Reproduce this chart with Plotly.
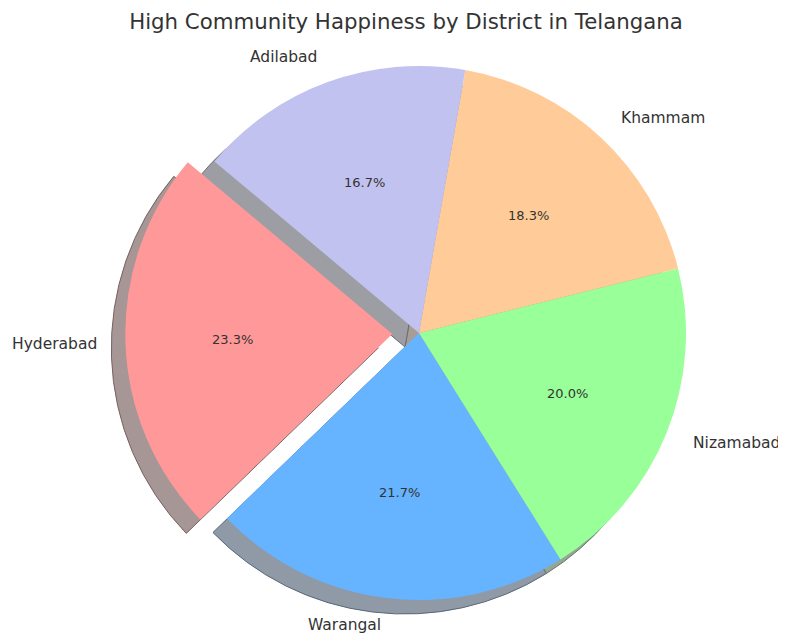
import math
import plotly.graph_objects as go

# ---- data ----
districts = ["Hyderabad", "Warangal", "Nizamabad", "Khammam", "Adilabad"]
counts = [14, 13, 12, 11, 10]
colors = ["#ff9999", "#66b3ff", "#99ff99", "#ffcc99", "#c2c2f0"]
explode = [0.1, 0, 0, 0, 0]
start_angle = 140  # degrees, counter-clockwise from 3 o'clock
title_text = "High Community Happiness by District in Telangana"

# ---- layout geometry (page pixels) ----
W, H = 778, 637
PAGE_OFF = 8               # browser body margin
cx, cy = 419, 333          # pie centre on the page
R = 267                    # pie radius
shadow_off = 14            # shadow offset (left / down)
FONT = "DejaVu Sans"
TXT = "#333333"

total = sum(counts)
half = R * (1 + max(explode))


def fx(px):
    return (px - PAGE_OFF) / W


def fy(py):
    return 1 - (py - PAGE_OFF) / H


def domain(cxp, cyp):
    return dict(x=[max(0.0, fx(cxp - half)), min(1.0, fx(cxp + half))],
                y=[max(0.0, fy(cyp + half)), min(1.0, fy(cyp - half))])


def rgb(hexc):
    return [int(hexc[i:i + 2], 16) for i in (1, 3, 5)]


def shade(hexc):
    return "rgb(%d,%d,%d)" % tuple(round(127.5 + 0.15 * c) for c in rgb(hexc))


def shade_edge(hexc):
    return "rgb(%d,%d,%d)" % tuple(round(63.75 + 0.225 * c) for c in rgb(hexc))


first_angle = 360.0 * counts[0] / total
rotation = 90 - start_angle - first_angle

fig = go.Figure()

# shadow pie
fig.add_trace(go.Pie(
    labels=districts, values=counts, sort=False, direction="counterclockwise",
    rotation=rotation, pull=explode,
    marker=dict(colors=[shade(c) for c in colors],
                line=dict(color=[shade_edge(c) for c in colors], width=1)),
    textinfo="none", hoverinfo="skip", showlegend=False,
    domain=domain(cx - shadow_off, cy + shadow_off),
))

# main pie
fig.add_trace(go.Pie(
    labels=districts, values=counts, sort=False, direction="counterclockwise",
    rotation=rotation, pull=explode,
    marker=dict(colors=colors, line=dict(width=0)),
    textinfo="none", hoverinfo="label+percent", showlegend=False,
    domain=domain(cx, cy),
))

# labels (1.1 R) and percentages (0.6 R), matplotlib-style
annotations = []
cum = 0.0
for name, v, ex in zip(districts, counts, explode):
    a0 = start_angle + 360.0 * cum / total
    cum += v
    a1 = start_angle + 360.0 * cum / total
    mid = math.radians((a0 + a1) / 2)
    ox = ex * R * math.cos(mid)
    oy = ex * R * math.sin(mid)
    lx = cx + ox + 1.1 * R * math.cos(mid)
    ly = cy - oy - 1.1 * R * math.sin(mid)
    px = cx + ox + 0.6 * R * math.cos(mid)
    py = cy - oy - 0.6 * R * math.sin(mid)
    annotations.append(dict(
        x=fx(lx), y=fy(ly), xref="paper", yref="paper", text=name,
        showarrow=False, xanchor="left" if math.cos(mid) > 0 else "right",
        yanchor="middle", font=dict(family=FONT, size=15.5, color=TXT)))
    annotations.append(dict(
        x=fx(px), y=fy(py), xref="paper", yref="paper",
        text="%.1f%%" % (100.0 * v / total), showarrow=False,
        xanchor="center", yanchor="middle",
        font=dict(family=FONT, size=13, color=TXT)))

fig.update_layout(
    width=W, height=H,
    margin=dict(l=0, r=0, t=0, b=0),
    paper_bgcolor="white", plot_bgcolor="white",
    title=dict(text=title_text, x=fx(406), y=fy(22), xanchor="center",
               yanchor="middle", font=dict(family=FONT, size=21.3, color=TXT)),
    annotations=annotations,
)

fig.write_html("out.html")
